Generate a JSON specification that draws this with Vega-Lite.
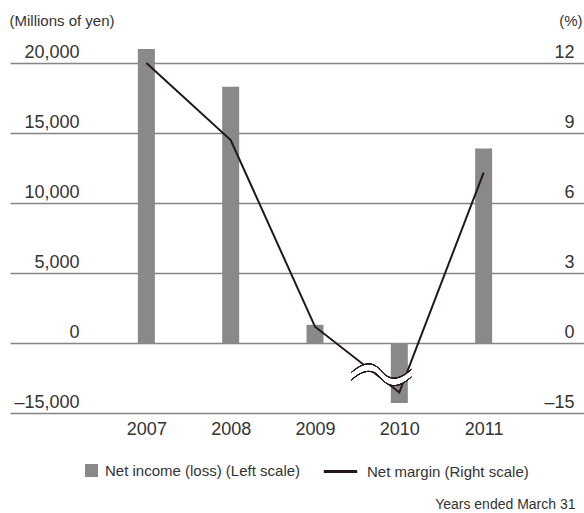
{
  "$schema": "https://vega.github.io/schema/vega-lite/v6.json",
  "width": 574,
  "height": 350,
  "autosize": {"type": "none"},
  "padding": {"left": 10, "top": 63, "right": 0, "bottom": 100},
  "background": "white",
  "config": {
    "font": "Liberation Sans",
    "view": {"stroke": null},
    "axis": {
      "labelColor": "#333333",
      "titleColor": "#333333",
      "domain": false,
      "ticks": false,
      "tickSize": 0,
      "labelFlush": false,
      "labelOverlap": false,
      "labelBound": false,
      "titleFontWeight": "normal"
    },
    "legend": {
      "labelColor": "#333333",
      "labelFontSize": 15,
      "labelLimit": 400,
      "padding": 0,
      "orient": "none"
    }
  },
  "data": {
    "values": [
      {"year": 2007, "income": 21000, "margin": 12.0},
      {"year": 2008, "income": 18300, "margin": 8.7},
      {"year": 2009, "income": 1300, "margin": 0.7},
      {"year": 2010, "income": -12860, "margin": -10.6},
      {"year": 2011, "income": 13900, "margin": 7.3}
    ]
  },
  "encoding": {
    "x": {
      "field": "year",
      "type": "quantitative",
      "scale": {"domain": [2005.442, 2012.131], "nice": false, "zero": false},
      "axis": {
        "values": [2007, 2008, 2009, 2010, 2011],
        "format": "d",
        "grid": false,
        "labelAngle": 0,
        "labelFontSize": 18,
        "labelPadding": 7,
        "labelBaseline": "top",
        "labelAlign": "center",
        "title": "Years ended March 31",
        "titleFontSize": 14,
        "titleAnchor": "end",
        "titleAlign": "right",
        "titleBaseline": "alphabetic",
        "titleX": 565,
        "titleY": 95
      }
    }
  },
  "layer": [
    {
      "mark": {"type": "bar", "width": 17},
      "encoding": {
        "y": {
          "field": "income",
          "type": "quantitative",
          "scale": {"domain": [-15000, 0, 20000], "range": [350, 280, 0], "nice": false, "zero": false},
          "axis": {
            "orient": "left",
            "values": [-15000, 0, 5000, 10000, 15000, 20000],
            "labelExpr": "datum.value < 0 ? '–' + format(-datum.value, ',') : format(datum.value, ',')",
            "labelFontSize": 18,
            "labelAlign": "right",
            "labelBaseline": "alphabetic",
            "labelPadding": -69,
            "labelOffset": -6,
            "grid": true,
            "gridColor": "#858585",
            "gridWidth": 1.5,
            "title": "(Millions of yen)",
            "titleAngle": 0,
            "titleFontSize": 15,
            "titleAlign": "left",
            "titleBaseline": "alphabetic",
            "titleX": -1,
            "titleY": -38
          }
        },
        "color": {
          "datum": "Net income (loss) (Left scale)",
          "scale": {"range": ["#898989"]},
          "legend": {
            "title": null,
            "symbolType": "square",
            "symbolSize": 169,
            "symbolStrokeWidth": 0,
            "labelOffset": 6,
            "legendX": 74,
            "legendY": 400
          }
        }
      }
    },
    {
      "mark": {"type": "line", "strokeWidth": 2},
      "encoding": {
        "y": {
          "field": "margin",
          "type": "quantitative",
          "scale": {"domain": [-15, 0, 12], "range": [350, 280, 0], "nice": false, "zero": false},
          "axis": {
            "orient": "right",
            "values": [-15, 0, 3, 6, 9, 12],
            "labelExpr": "datum.value < 0 ? '–' + format(-datum.value, ',') : format(datum.value, ',')",
            "labelFontSize": 18,
            "labelAlign": "right",
            "labelBaseline": "alphabetic",
            "labelPadding": -10,
            "labelOffset": -6,
            "grid": false,
            "title": "(%)",
            "titleAngle": 0,
            "titleFontSize": 15,
            "titleAlign": "right",
            "titleBaseline": "alphabetic",
            "titleX": -2,
            "titleY": -38
          }
        },
        "stroke": {
          "datum": "Net margin (Right scale)",
          "scale": {"range": ["#231815"]},
          "legend": {
            "title": null,
            "symbolType": "stroke",
            "symbolSize": 1115,
            "symbolStrokeWidth": 3,
            "labelOffset": 8,
            "legendX": 312,
            "legendY": 390
          }
        }
      }
    },
    {
      "mark": {
        "type": "point",
        "shape": "M-1,0.05 C-0.55,-0.35 -0.25,-0.3 0,0 C0.25,0.3 0.55,0.35 1,-0.05 L1,0.2 C0.55,0.6 0.25,0.55 0,0.25 C-0.25,-0.05 -0.55,-0.1 -1,0.3 Z",
        "filled": true,
        "fill": "white",
        "fillOpacity": 1,
        "opacity": 1,
        "strokeWidth": 0,
        "size": 3600,
        "xOffset": -18
      },
      "encoding": {
        "x": {"datum": 2010},
        "y": {"datum": -6, "scale": {"domain": [-15, 0, 12], "range": [350, 280, 0], "nice": false, "zero": false}, "axis": null}
      }
    },
    {
      "mark": {
        "type": "point",
        "shape": "M-1,0.05 C-0.55,-0.35 -0.25,-0.3 0,0 C0.25,0.3 0.55,0.35 1,-0.05 M-1,0.3 C-0.55,-0.1 -0.25,-0.05 0,0.25 C0.25,0.55 0.55,0.6 1,0.2",
        "filled": false,
        "stroke": "#231815",
        "strokeWidth": 1,
        "opacity": 1,
        "size": 3600,
        "xOffset": -18
      },
      "encoding": {
        "x": {"datum": 2010},
        "y": {"datum": -6, "scale": {"domain": [-15, 0, 12], "range": [350, 280, 0], "nice": false, "zero": false}, "axis": null}
      }
    }
  ],
  "resolve": {"scale": {"y": "independent"}}
}
